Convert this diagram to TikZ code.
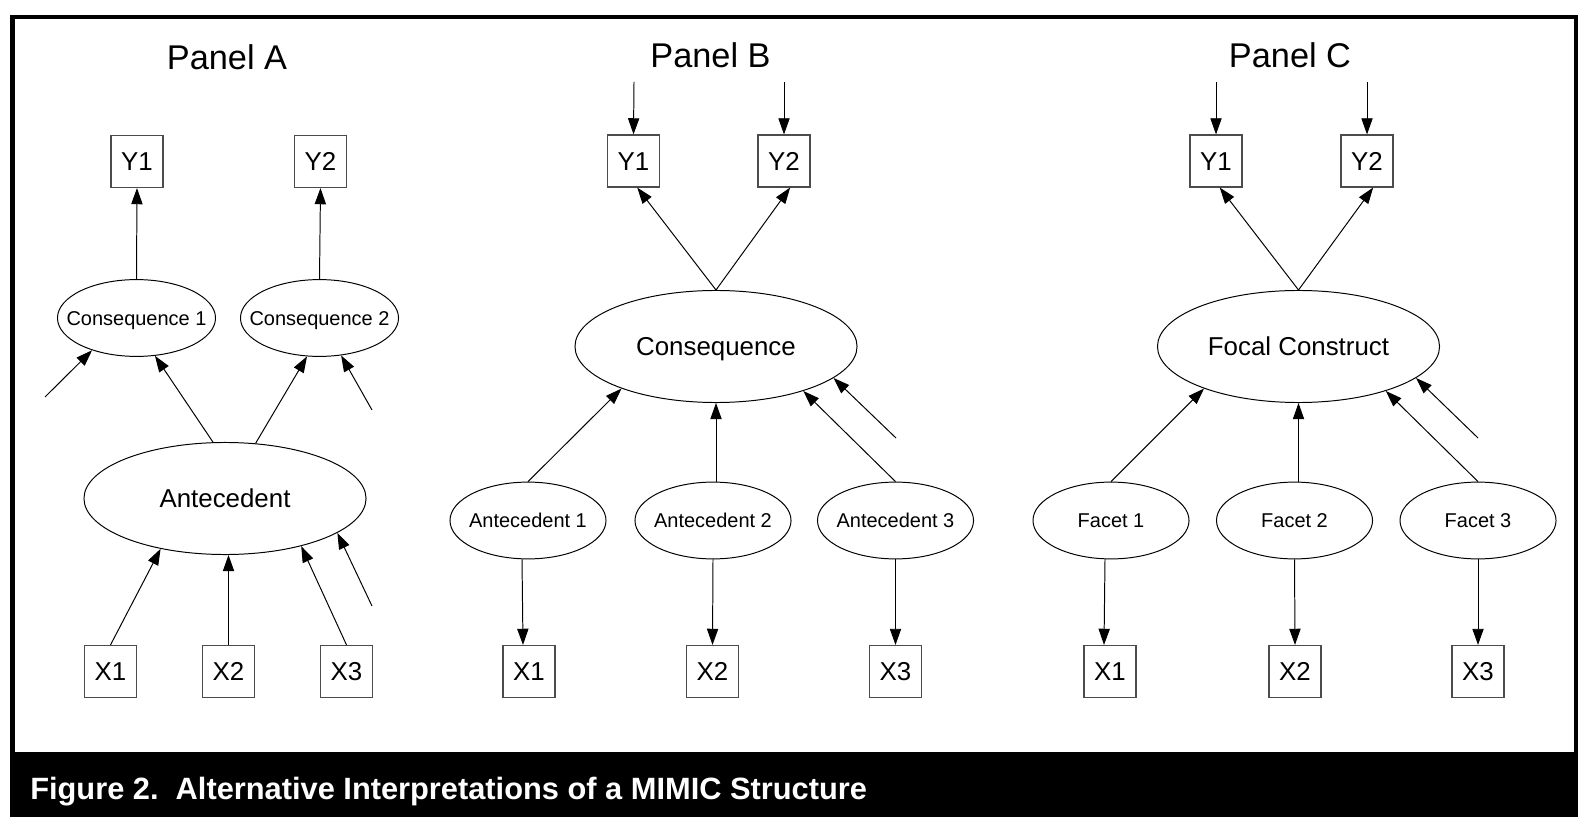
\documentclass[tikz,border=0pt]{standalone}
\usepackage{fontspec}
\setmainfont{Liberation Sans}
\usetikzlibrary{arrows.meta,shapes.geometric}
\begin{document}
\begin{tikzpicture}[x=0.025cm,y=-0.025cm,every node/.style={inner sep=0pt},
  panel/.style={anchor=base,font=\fontsize{24.4pt}{28pt}\selectfont},
  obsbox/.style={draw=black!70,line width=0.8pt,minimum size=1.3cm,text height=13.2pt,text depth=0pt,font=\fontsize{18.4pt}{22pt}\selectfont},
  bigvar/.style={ellipse,draw,line width=0.7pt,minimum width=7.05cm,minimum height=2.8cm,text height=13.2pt,text depth=0pt,font=\fontsize{18.4pt}{22pt}\selectfont},
  smallvar/.style={ellipse,draw,line width=0.7pt,inner xsep=-10pt,minimum width=3.9cm,minimum height=1.92cm,text height=10.2pt,text depth=0pt,font=\fontsize{14.2pt}{17pt}\selectfont},
  link/.style={-{Triangle[length=11.5pt,width=8pt]},line width=0.7pt},
  capline/.style={anchor=base west,text=white,font=\fontsize{21.9pt}{26pt}\selectfont\bfseries}]
\fill[white] (0,0) rectangle (1588,832);
\useasboundingbox (0,0) rectangle (1588,832);
\draw[line width=2.85pt] (12.5,17.5) rectangle (1576,760);
\fill (10,752) rectangle (1578,817);
\node[capline] (cap) at (30,799) {Figure 2.\ \ Alternative Interpretations of a MIMIC Structure};
% panel A
\node[panel] (ta) at (227,70) {Panel A};
\node[obsbox] (ay1) at (137,161.5) {Y1};
\node[obsbox] (ay2) at (320.5,161.5) {Y2};
\node[smallvar] (ac1) at (136.5,318) {Consequence 1};
\node[smallvar] (ac2) at (319.5,318) {Consequence 2};
\node[bigvar] (aant) at (225,498.5) {Antecedent};
\node[obsbox] (ax1) at (110.5,671.5) {X1};
\node[obsbox] (ax2) at (228.5,671.5) {X2};
\node[obsbox] (ax3) at (346.5,671.5) {X3};
\coordinate (ae1) at (45,397);
\coordinate (ae2) at (372,410);
\coordinate (ae3) at (372,606);
\draw[link] (ac1.north) -- (ay1.south);
\draw[link] (ac2.north) -- (ay2.south);
\draw[link] (aant.102) -- (ac1.-64);
\draw[link] (aant.61) -- (ac2.-108);
\draw[link] (ae1) -- (ac1.-144);
\draw[link] (ae2) -- (ac2.-60.5);
\draw[link] (ax1.north) -- (aant.-142);
\draw[link] (ax2.north) -- (aant.south -| ax2.north);
\draw[link] (ax3.north) -- (aant.-32.5);
\draw[link] (ae3) -- (aant.-17);
% panel B
\node[panel] (tb) at (710.5,68) {Panel B};
\node[obsbox] (by1) at (633.5,161) {Y1};
\node[obsbox] (by2) at (784,161) {Y2};
\node[bigvar] (bcon) at (716,346.5) {Consequence};
\node[smallvar] (ba1) at (528,520.5) {Antecedent 1};
\node[smallvar] (ba2) at (713,520.5) {Antecedent 2};
\node[smallvar] (ba3) at (895.5,520.5) {Antecedent 3};
\node[obsbox] (bx1) at (529,671.5) {X1};
\node[obsbox] (bx2) at (712.5,671.5) {X2};
\node[obsbox] (bx3) at (895.5,671.5) {X3};
\coordinate (bt1) at (634,82);
\coordinate (bt2) at (784,82);
\coordinate (be) at (896,438);
\draw[link] (bt1) -- (by1.north);
\draw[link] (bt2) -- (by2.north);
\draw[link] (bcon.north) -- (by1.-82);
\draw[link] (bcon.north) -- (by2.-77);
\draw[link] (ba1.north) -- (bcon.-156);
\draw[link] (ba2.north -| bcon.south) -- (bcon.south);
\draw[link] (ba3.north) -- (bcon.-27);
\draw[link] (be) -- (bcon.-15);
\draw[link] ([xshift=-0.15cm]ba1.south) -- ([xshift=-0.15cm]bx1.north);
\draw[link] (ba2.south) -- (bx2.north);
\draw[link] (ba3.south) -- (bx3.north);
% panel C
\node[panel] (tc) at (1290,68) {Panel C};
\node[obsbox] (cy1) at (1216,161) {Y1};
\node[obsbox] (cy2) at (1367,161) {Y2};
\node[bigvar] (cfc) at (1298.5,346.5) {Focal Construct};
\node[smallvar] (cf1) at (1111,520.5) {Facet 1};
\node[smallvar] (cf2) at (1294.5,520.5) {Facet 2};
\node[smallvar] (cf3) at (1478,520.5) {Facet 3};
\node[obsbox] (cx1) at (1110,671.5) {X1};
\node[obsbox] (cx2) at (1295,671.5) {X2};
\node[obsbox] (cx3) at (1478,671.5) {X3};
\coordinate (ct1) at (1216,82);
\coordinate (ct2) at (1367,82);
\coordinate (ce) at (1478,438);
\draw[link] (ct1) -- (cy1.north);
\draw[link] (ct2) -- (cy2.north);
\draw[link] (cfc.north) -- (cy1.-82);
\draw[link] (cfc.north) -- (cy2.-77);
\draw[link] (cf1.north) -- (cfc.-156);
\draw[link] (cf2.north -| cfc.south) -- (cfc.south);
\draw[link] (cf3.north) -- (cfc.-27);
\draw[link] (ce) -- (cfc.-15);
\draw[link] ([xshift=-0.15cm]cf1.south) -- ([xshift=-0.15cm]cx1.north);
\draw[link] (cf2.south) -- (cx2.north);
\draw[link] (cf3.south) -- (cx3.north);
\end{tikzpicture}
\end{document}
